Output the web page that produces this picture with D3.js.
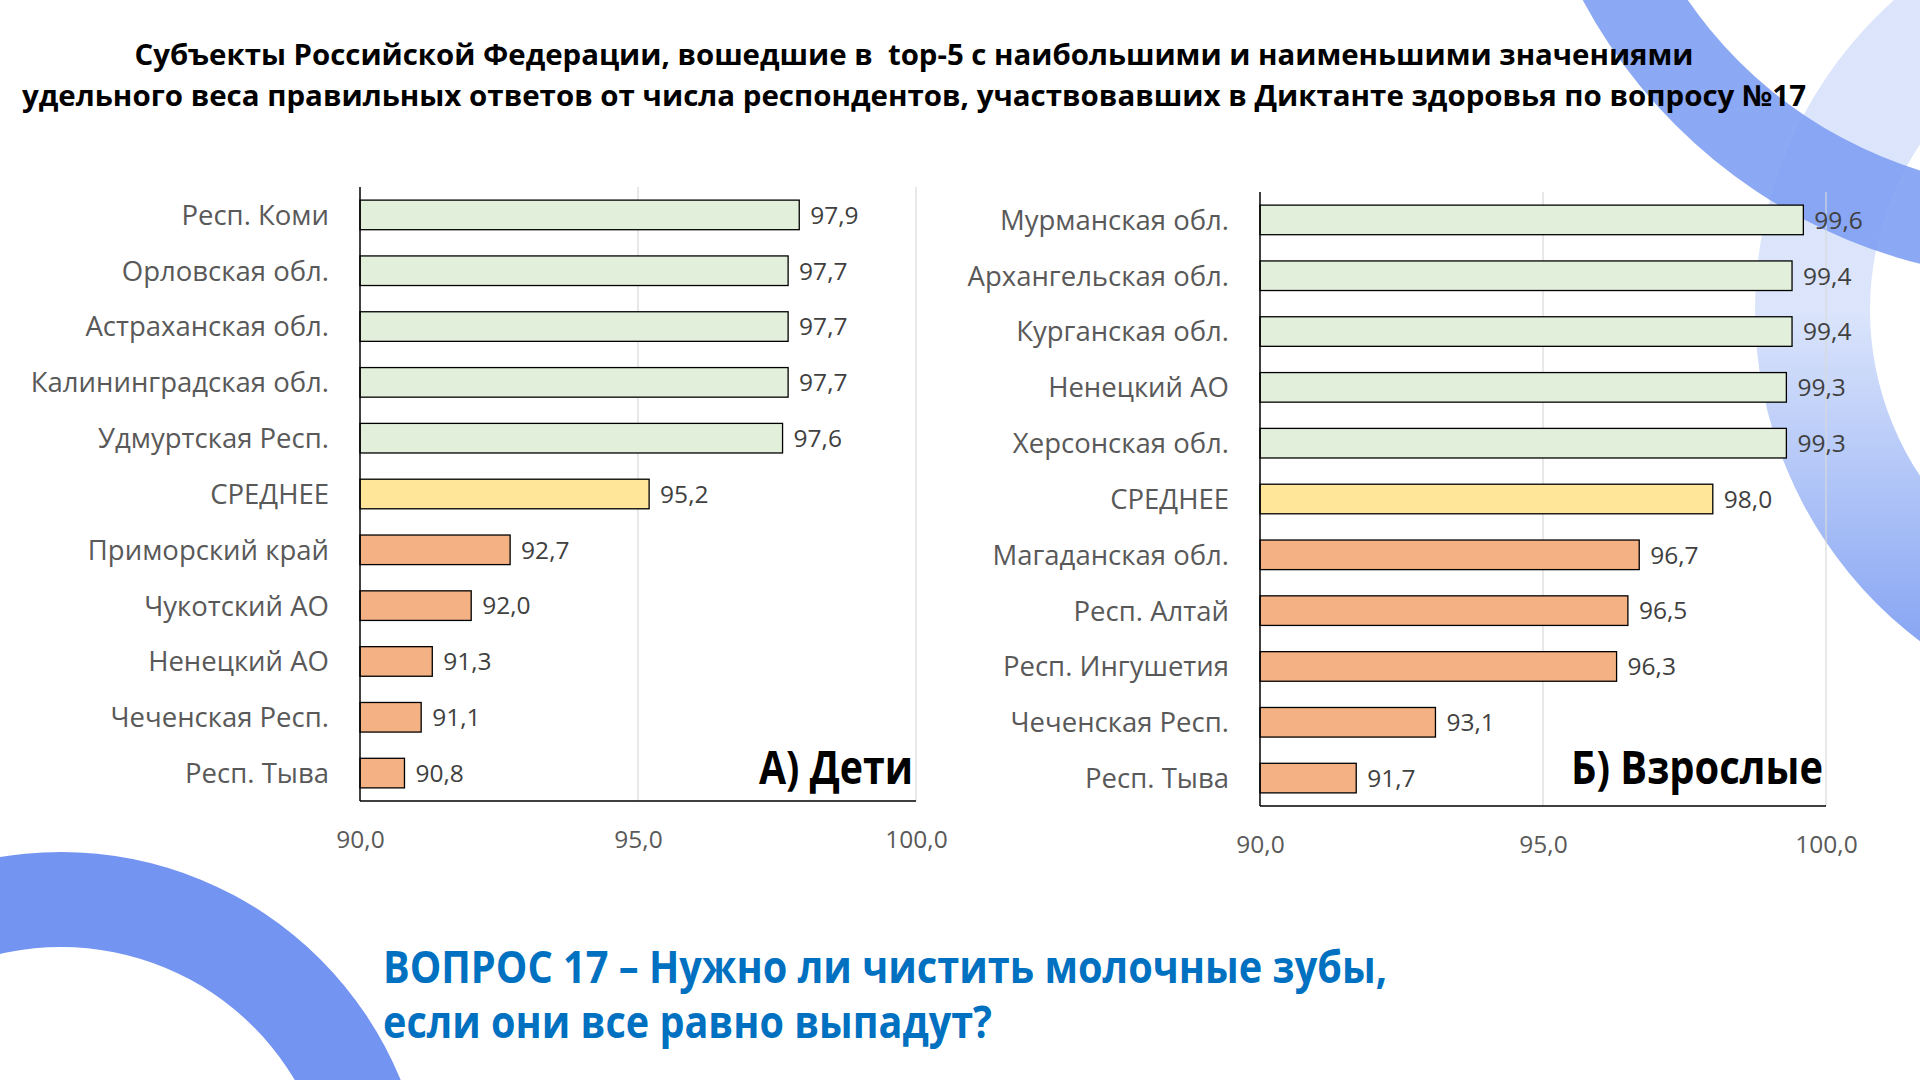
<!DOCTYPE html>
<html>
<head>
<meta charset="utf-8">
<script src="https://cdn.jsdelivr.net/npm/d3@7"></script>
<style>
  html, body { margin: 0; padding: 0; background: #fff; }
  svg { display: block; font-family: 'Open Sans', 'Noto Sans', sans-serif; }
</style>
</head>
<body>
<svg id="chart" width="1920" height="1080"></svg>
<script>
// --- data ---
const titleLines = [
  "Субъекты Российской Федерации, вошедшие в  top-5 с наибольшими и наименьшими значениями",
  "удельного веса правильных ответов от числа респондентов, участвовавших в Диктанте здоровья по вопросу №17"
];
const childCategories = ["Респ. Коми", "Орловская обл.", "Астраханская обл.", "Калининградская обл.",
  "Удмуртская Респ.", "СРЕДНЕЕ", "Приморский край", "Чукотский АО", "Ненецкий АО", "Чеченская Респ.", "Респ. Тыва"];
const childValues = [97.9, 97.7, 97.7, 97.7, 97.6, 95.2, 92.7, 92.0, 91.3, 91.1, 90.8];
const adultCategories = ["Мурманская обл.", "Архангельская обл.", "Курганская обл.", "Ненецкий АО",
  "Херсонская обл.", "СРЕДНЕЕ", "Магаданская обл.", "Респ. Алтай", "Респ. Ингушетия", "Чеченская Респ.", "Респ. Тыва"];
const adultValues = [99.6, 99.4, 99.4, 99.3, 99.3, 98.0, 96.7, 96.5, 96.3, 93.1, 91.7];
const xDomain = [90, 100];
const xTicks = [90, 95, 100];
const meanLabel = "СРЕДНЕЕ";
const panelTitles = ["А) Дети", "Б) Взрослые"];
const questionLines = ["ВОПРОС 17 – Нужно ли чистить молочные зубы,", "если они все равно выпадут?"];

const colors = { top: "#E2EFDA", mean: "#FFE699", low: "#F4B183" };

const svg = d3.select("#chart");
const defs = svg.append("defs");

// background decoration (blue rings)
function addGradient(id, x1, y1, x2, y2, stops) {
  const g = defs.append("linearGradient").attr("id", id)
    .attr("gradientUnits", "userSpaceOnUse")
    .attr("x1", x1).attr("y1", y1).attr("x2", x2).attr("y2", y2);
  stops.forEach(s => g.append("stop").attr("offset", s[0]).attr("stop-color", s[1]));
}
addGradient("gBL", 0, 850, 420, 1080, [[0, "#7494f1"], [0.55, "#a3bbf6"], [1, "#d6e0fb"]]);
addGradient("gRing", 0, 0, 0, 700, [[0, "#d9e3fb"], [0.28, "#a6bdf6"], [0.5, "#7d9df2"], [0.85, "#7f9ff2"], [1, "#b7caf7"]]);
addGradient("gBand", 1580, 0, 1920, 280, [[0, "#7f9ff3"], [0.5, "#6b8ef0"], [1, "#7898f1"]]);

const arc = d3.arc();
const deco = svg.append("g");
deco.append("path")
  .attr("transform", "translate(61,1219)")
  .attr("d", arc({ innerRadius: 272, outerRadius: 367, startAngle: 0, endAngle: 2 * Math.PI }))
  .attr("fill", "url(#gBL)");
deco.append("path")
  .attr("transform", "translate(2170,310)")
  .attr("d", arc({ innerRadius: 300, outerRadius: 415, startAngle: 0, endAngle: 2 * Math.PI }))
  .attr("fill", "url(#gRing)").attr("opacity", 0.95);
deco.append("path")
  .attr("transform", "translate(2050,-250)")
  .attr("d", arc({ innerRadius: 440, outerRadius: 530, startAngle: 0, endAngle: 2 * Math.PI }))
  .attr("fill", "url(#gBand)").attr("opacity", 0.9);

// title
const title = svg.append("g");
const titleWidths = [1559, 1784];
title.selectAll("text").data(titleLines).join("text")
  .attr("x", 914).attr("y", (d, i) => 65 + i * 41)
  .attr("text-anchor", "middle")
  .attr("font-size", 29).attr("font-weight", 700).attr("fill", "#000")
  .style("white-space", "pre")
  .attr("textLength", (d, i) => titleWidths[i]).attr("lengthAdjust", "spacingAndGlyphs")
  .text(d => d);

const fmt = v => d3.format(".1f")(v).replace(".", ",");

function drawPanel(cats, vals, box, label, labelWidth) {
  const g = svg.append("g");
  const meanIdx = cats.indexOf(meanLabel);
  const x = d3.scaleLinear().domain(xDomain).range([box.x0, box.x1]);
  const y = d3.scaleBand().domain(cats).range([box.y0, box.y1])
    .paddingInner(0.47).paddingOuter(0.235);
  const rows = cats.map((c, i) => ({ c, v: vals[i], kind: i < meanIdx ? "top" : i === meanIdx ? "mean" : "low" }));

  // gridlines
  g.selectAll("line.grid").data(xTicks.filter(t => t !== xDomain[0])).join("line")
    .attr("class", "grid")
    .attr("x1", d => x(d)).attr("x2", d => x(d))
    .attr("y1", box.y0).attr("y2", box.y1)
    .attr("stroke", "#D9D9D9").attr("stroke-width", 1.2);

  // bars
  g.selectAll("rect.bar").data(rows).join("rect")
    .attr("class", "bar")
    .attr("x", x(xDomain[0]))
    .attr("y", d => y(d.c))
    .attr("width", d => x(d.v) - x(xDomain[0]))
    .attr("height", y.bandwidth())
    .attr("fill", d => colors[d.kind])
    .attr("stroke", "#000").attr("stroke-width", 1.3);

  // value labels
  g.selectAll("text.val").data(rows).join("text")
    .attr("class", "val")
    .attr("x", d => x(d.v) + 11)
    .attr("y", d => y(d.c) + y.bandwidth() / 2)
    .attr("dy", "0.36em")
    .attr("font-size", 24.5).attr("fill", "#404040")
    .text(d => fmt(d.v));

  // category labels
  g.selectAll("text.cat").data(rows).join("text")
    .attr("class", "cat")
    .attr("x", box.x0 - 31)
    .attr("y", d => y(d.c) + y.bandwidth() / 2)
    .attr("dy", "0.36em")
    .attr("text-anchor", "end")
    .attr("font-size", 27.5).attr("fill", "#595959")
    .text(d => d.c);

  // x axis
  const ax = g.append("g")
    .attr("transform", `translate(0,${box.y1})`)
    .call(d3.axisBottom(x).tickValues(xTicks).tickSize(0).tickPadding(30).tickFormat(fmt));
  ax.select(".domain").remove();
  ax.attr("font-family", null).attr("font-size", 24.5);
  ax.selectAll("text").attr("fill", "#595959");

  // axis lines
  g.append("line")
    .attr("x1", box.x0).attr("x2", box.x1).attr("y1", box.y1).attr("y2", box.y1)
    .attr("stroke", "#000").attr("stroke-width", 1.5);
  g.append("line")
    .attr("x1", box.x0).attr("x2", box.x0).attr("y1", box.y0).attr("y2", box.y1)
    .attr("stroke", "#000").attr("stroke-width", 1.5);

  // panel title
  g.append("text")
    .attr("x", box.x1 - 3).attr("y", 784)
    .attr("text-anchor", "end")
    .attr("font-size", 46).attr("font-weight", 700).attr("fill", "#000")
    .attr("textLength", labelWidth).attr("lengthAdjust", "spacingAndGlyphs")
    .text(label);
}

drawPanel(childCategories, childValues, { x0: 360, x1: 916, y0: 187, y1: 801 }, panelTitles[0], 154);
drawPanel(adultCategories, adultValues, { x0: 1260, x1: 1826, y0: 192, y1: 806 }, panelTitles[1], 252);

// question
const qWidths = [1004, 609];
svg.append("g").selectAll("text").data(questionLines).join("text")
  .attr("x", 383).attr("y", (d, i) => 983 + i * 55)
  .attr("font-size", 44).attr("font-weight", 700).attr("fill", "#0070C0")
  .attr("textLength", (d, i) => qWidths[i]).attr("lengthAdjust", "spacingAndGlyphs")
  .text(d => d);
</script>
</body>
</html>
